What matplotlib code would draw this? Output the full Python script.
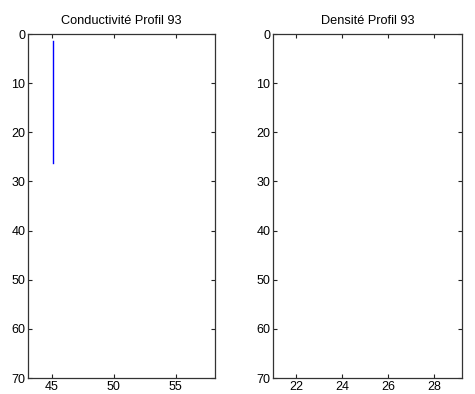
import matplotlib.pyplot as plt
import numpy as np

# Profil 93 : conductivité en fonction de la profondeur
prof_cond = [1.4, 26.3]
conductivite = [45.13, 45.13]

# densité : pas de données tracées
prof_dens = []
densite = []

titres = ["Conductivité Profil 93", "Densité Profil 93"]
xticks_cond = [45, 50, 55]
xticks_dens = [22, 24, 26, 28]
yticks = [0, 10, 20, 30, 40, 50, 60, 70]

plt.rcParams['font.family'] = ['Liberation Sans', 'DejaVu Sans']
plt.rcParams['font.size'] = 9

fig = plt.figure(figsize=(4.75, 3.94), dpi=100)
ax1 = fig.add_axes([0.059, 0.0406, 0.394, 0.873])
ax2 = fig.add_axes([0.5754, 0.0406, 0.3966, 0.873])

ax1.plot(conductivite, prof_cond, color='#0000ff', linewidth=1)
ax2.plot(densite, prof_dens, color='#0000ff', linewidth=1)

ax1.set_xlim(43.1, 58.2)
ax1.set_xticks(xticks_cond)
ax2.set_xlim(21.0, 29.2)
ax2.set_xticks(xticks_dens)

for ax, titre in zip([ax1, ax2], titres):
    ax.set_ylim(70, 0)
    ax.set_yticks(yticks)
    ax.set_title(titre, fontsize=9.2, pad=7)
    ax.tick_params(direction='in', length=3, width=0.8, top=True, right=True,
                   colors='#222222', labelcolor='black', pad=2)
    for s in ax.spines.values():
        s.set_linewidth(0.9)
        s.set_color('#333333')

fig.savefig('out.png', dpi=100)
